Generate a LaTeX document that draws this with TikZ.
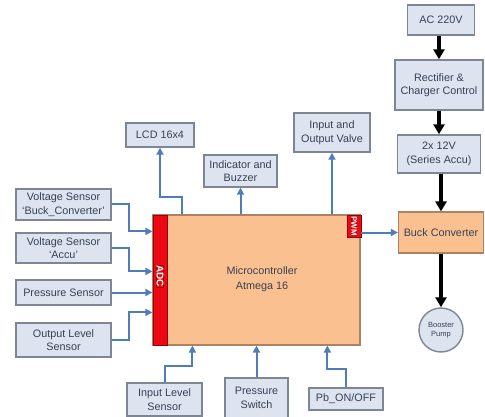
\documentclass[tikz,border=0pt]{standalone}
\usepackage{fontspec}
\setmainfont{Liberation Sans}
\usetikzlibrary{arrows.meta,calc}
\definecolor{boxfill}{RGB}{221,228,240}
\definecolor{boxline}{RGB}{125,135,148}
\definecolor{barrowc}{RGB}{79,125,184}
\definecolor{mcfill}{RGB}{250,192,144}
\definecolor{mcline}{RGB}{170,130,100}
\definecolor{redstrip}{RGB}{235,10,20}
\definecolor{txt}{RGB}{55,65,85}
\tikzset{
  box/.style={draw=boxline, line width=1.4pt, fill=boxfill, text=txt, align=center,
    font=\fontsize{10.8}{13.5}\selectfont, inner sep=1pt},
  barrow/.style={draw=barrowc, line width=2pt, -{Triangle[width=7pt,length=7pt]}},
  karrow/.style={draw=black, line width=3.6pt, -{Triangle[width=11pt,length=10pt]}},
  strip/.style={draw=red!60!black, line width=0.6pt, fill=redstrip, text=white,
    font=\bfseries\fontsize{10}{11}\selectfont, inner sep=0pt}
}
\begin{document}
\begin{tikzpicture}[x=1pt,y=-1pt]
\useasboundingbox[fill=white] (0,0) rectangle (485,417);
% power chain
\node[box, minimum width=67pt, minimum height=30pt] (ac) at (441,20) {AC 220V};
\node[box, minimum width=88pt, minimum height=50pt] (rect) at (439,85) {Rectifier \&\\Charger Control};
\node[box, minimum width=83pt, minimum height=38pt] (accu) at (439,154) {2x 12V\\(Series Accu)};
\node[draw=mcline, line width=1.2pt, fill=mcfill, text=txt, font=\fontsize{10.8}{13.5}\selectfont,
  minimum width=85pt, minimum height=41pt] (buck) at (441,232.5) {Buck Converter};
\node[box, circle, minimum size=44pt, font=\fontsize{7.5}{9.5}\selectfont] (pump) at (441,330) {Booster\\Pump};
\draw[karrow] (ac.south -| accu.north) -- (rect.north -| accu.north);
\draw[karrow] (rect.south -| accu.north) -- (accu.north);
\draw[karrow] (accu.south -| buck.north) -- (buck.north);
\draw[karrow] (buck.south) -- (pump.north);
% microcontroller
\node[draw=mcline, line width=1.2pt, fill=mcfill, minimum width=207pt, minimum height=130pt] (micro) at (256.5,280) {};
\node[text=txt, font=\fontsize{10.8}{15}\selectfont, align=center] (mctext) at (262,279) {Microcontroller\\Atmega 16};
\node[strip, minimum width=14pt, minimum height=130pt] (adc) at (160,280) {};
\node[strip, rotate=-90] (adctext) at (160,276) {ADC};
\node[strip, minimum width=14pt, minimum height=22pt] (pwm) at (354,226) {};
\node[strip, rotate=-90, font=\bfseries\fontsize{8}{9}\selectfont] (pwmtext) at (pwm.center) {PWM};
% top outputs
\node[box, minimum width=68pt, minimum height=24pt] (lcd) at (160,135) {LCD 16x4};
\node[box, minimum width=73pt, minimum height=32pt] (ind) at (240.5,171) {Indicator and\\Buzzer};
\node[box, minimum width=76pt, minimum height=39pt] (valve) at (332,132.5) {Input and\\Output Valve};
\draw[barrow] ([xshift=30pt]micro.north west) -- ++(0,-17) -| (lcd.south);
\draw[barrow] (micro.north -| ind.south) -- (ind.south);
\draw[barrow] (micro.north -| valve.south) -- (valve.south);
\draw[barrow] (pwm.east |- buck.west) -- (buck.west);
% left sensors
\node[box, minimum width=95pt, minimum height=31pt] (vsb) at (63.5,204.5) {Voltage Sensor\\`Buck\_Converter'};
\node[box, minimum width=95pt, minimum height=30pt] (vsa) at (63.5,248) {Voltage Sensor\\`Accu'};
\node[box, minimum width=95pt, minimum height=25pt] (ps) at (63.5,292.5) {Pressure Sensor};
\node[box, minimum width=95pt, minimum height=34pt] (ols) at (63.5,340) {Output Level\\Sensor};
\draw[barrow] (vsb.east) -- ++(17,0) |- ([yshift=-17pt]micro.north west);
\draw[barrow] (vsa.east) -- ++(17,0) |- ([yshift=-57pt]micro.north west);
\draw[barrow] (ps.east) -- (ps.east -| micro.west);
\draw[barrow] (ols.east) -- ++(17,0) |- ([yshift=-98pt]micro.north west);
% bottom inputs
\node[box, minimum width=75pt, minimum height=33pt] (ils) at (164.5,399.5) {Input Level\\Sensor};
\node[box, minimum width=63pt, minimum height=40pt] (psw) at (256.5,398) {Pressure\\Switch};
\node[box, minimum width=74pt, minimum height=22pt] (pb) at (346,399) {Pb\_ON/OFF};
\draw[barrow] (ils.north) -- ++(0,-16) -| ([xshift=40pt]micro.south west);
\draw[barrow] (psw.north) -- (psw.north |- micro.south);
\draw[barrow] (pb.north) -- ++(0,-18) -| ([xshift=175pt]micro.south west);
\end{tikzpicture}
\end{document}
